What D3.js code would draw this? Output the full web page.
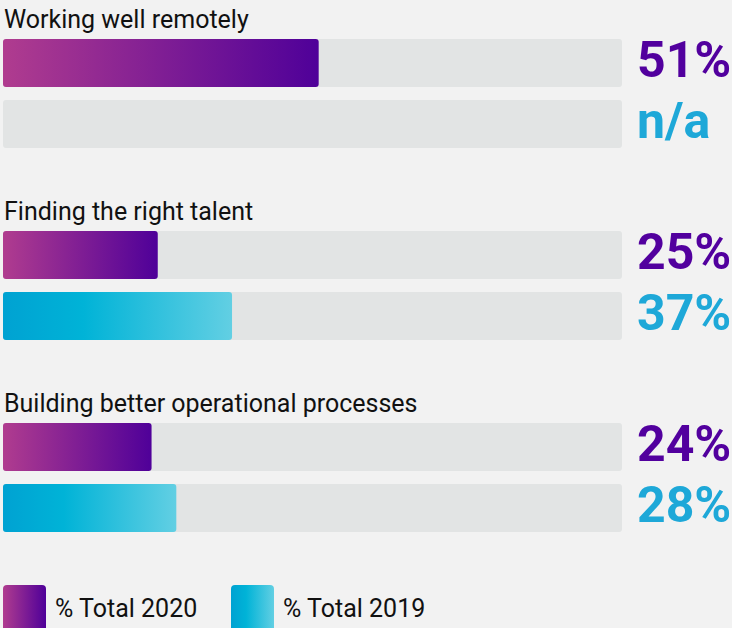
<!DOCTYPE html>
<meta charset="utf-8">
<style>
    body { margin: 0; background: #f2f2f2; }
    text { font-family: Roboto, sans-serif; }
</style>
<body>
    <script src="https://d3js.org/d3.v7.min.js"></script>
    <script>
        var categories = ["Working well remotely", "Finding the right talent", "Building better operational processes"];
        var series = ["% Total 2020", "% Total 2019"];
        var values2020 = [51, 25, 24];
        var values2019 = [null, 37, 28];

        var width = 732,
            height = 628;

        var svg = d3.select("body").append("svg")
            .attr("width", width)
            .attr("height", height);

        var defs = svg.append("defs");
        var grad1 = defs.append("linearGradient").attr("id", "g2020");
        grad1.append("stop").attr("offset", "0%").attr("stop-color", "#b03c8f");
        grad1.append("stop").attr("offset", "100%").attr("stop-color", "#4f0099");
        var grad2 = defs.append("linearGradient").attr("id", "g2019");
        grad2.append("stop").attr("offset", "0%").attr("stop-color", "#00a2d2");
        grad2.append("stop").attr("offset", "35%").attr("stop-color", "#00b3d7");
        grad2.append("stop").attr("offset", "100%").attr("stop-color", "#62cfe3");

        var x = d3.scaleLinear().domain([0, 100]).range([3, 622]);

        // each category block is 192px tall, two rows inside
        var rowY = d3.scaleBand().domain(series).range([39, 148]).paddingInner(13 / 61);

        var fills = ["url(#g2020)", "url(#g2019)"];
        var labelColors = ["#52009e", "#1ea8d8"];

        var g = svg.selectAll("g.cat")
            .data(categories)
            .enter().append("g")
            .attr("class", "cat")
            .attr("transform", function(d, i) { return "translate(0," + (i * 192) + ")"; });

        g.append("text")
            .attr("x", 4)
            .attr("y", 28)
            .style("font-size", "25px")
            .style("fill", "#111")
            .text(function(d) { return d; });

        g.each(function(cat, i) {
            var rows = [values2020[i], values2019[i]];
            var gg = d3.select(this);
            rows.forEach(function(v, j) {
                var y = rowY(series[j]);
                gg.append("rect")
                    .attr("x", x(0))
                    .attr("y", y)
                    .attr("width", x(100) - x(0))
                    .attr("height", rowY.bandwidth())
                    .attr("rx", 3)
                    .style("fill", "#e2e4e4");
                if (v != null) {
                    gg.append("rect")
                        .attr("x", x(0))
                        .attr("y", y)
                        .attr("width", x(v) - x(0))
                        .attr("height", rowY.bandwidth())
                        .attr("rx", 3)
                        .style("fill", fills[j]);
                }
                gg.append("text")
                    .attr("x", 637)
                    .attr("y", y + rowY.bandwidth() / 2 + 14)
                    .style("font-size", "50px")
                    .style("font-weight", "bold")
                    .style("fill", v == null ? labelColors[1] : labelColors[j])
                    .text(v == null ? "n/a" : v + "%");
            });
        });

        // legend
        var legend = svg.selectAll("g.legend")
            .data(series)
            .enter().append("g")
            .attr("class", "legend")
            .attr("transform", function(d, i) { return "translate(" + (3 + i * 228) + ",585)"; });

        legend.append("rect")
            .attr("width", 43)
            .attr("height", 48)
            .attr("rx", 4)
            .style("fill", function(d, i) { return fills[i]; });

        legend.append("text")
            .attr("x", 52)
            .attr("y", 32)
            .style("font-size", "25px")
            .style("fill", "#111")
            .text(function(d) { return d; });
    </script>
</body>
</html>
